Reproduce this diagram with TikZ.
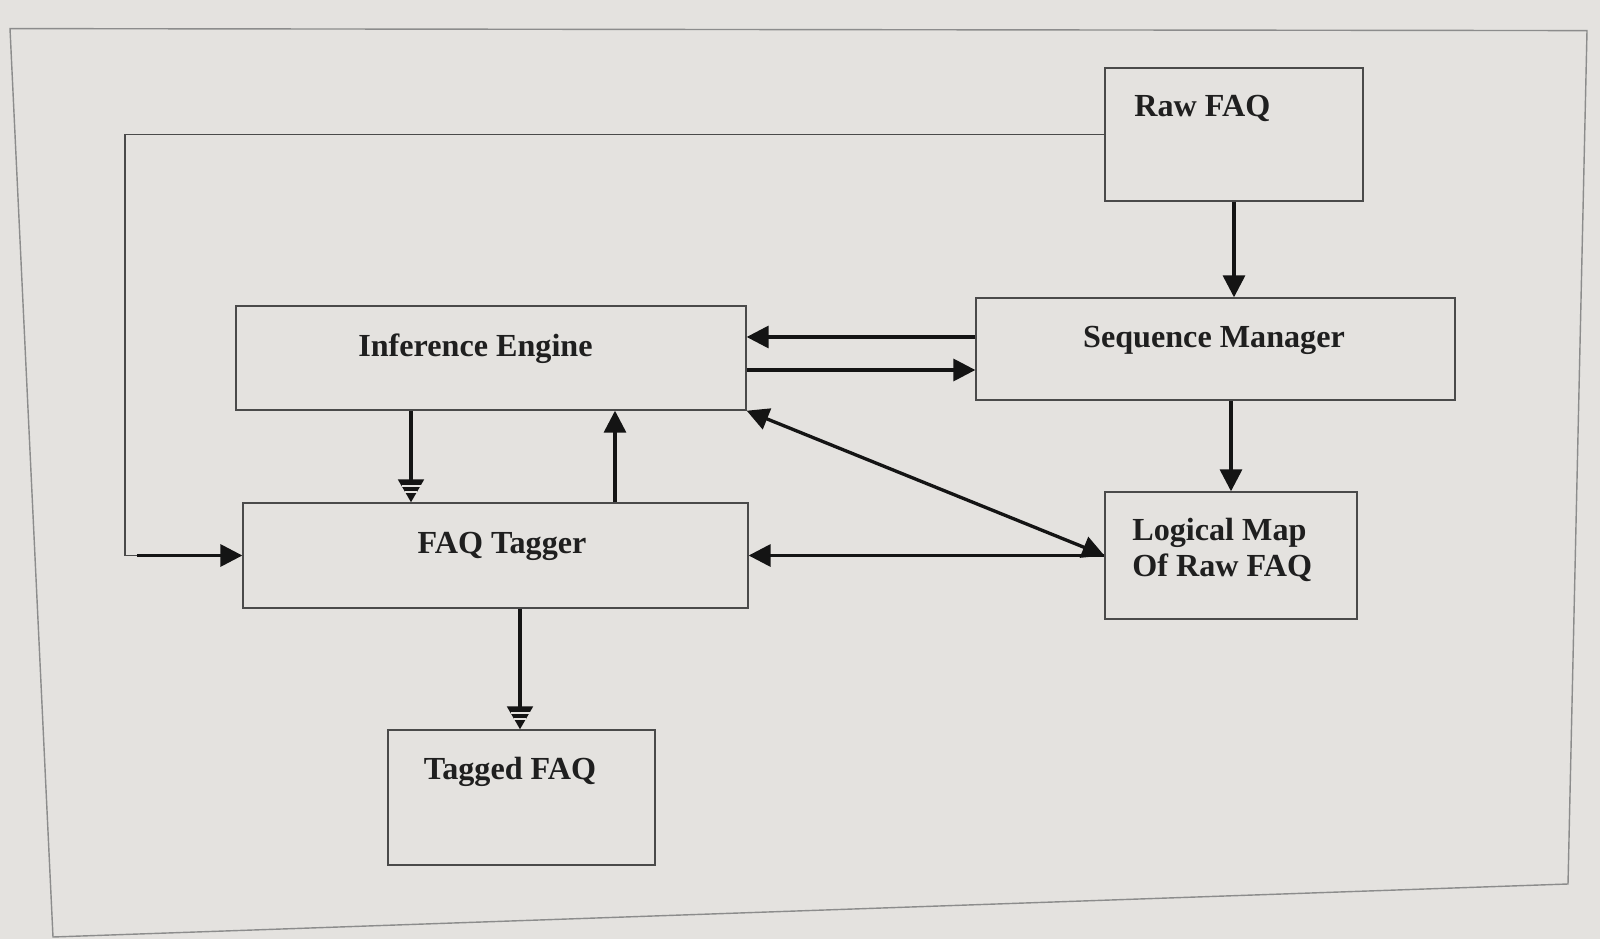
\documentclass[tikz,border=0pt]{standalone}
\usepackage{fontspec}
\setmainfont{Liberation Serif}
\usetikzlibrary{arrows.meta,calc}
\definecolor{bg}{HTML}{E4E2DF}
\definecolor{boxline}{HTML}{4A4A4A}
\definecolor{frameline}{HTML}{8C8C8C}
\tikzset{
  box/.style={draw=boxline, line width=0.8pt, inner sep=0pt},
  lbl/.style={font=\bfseries\fontsize{18.3pt}{21pt}\selectfont, inner sep=0pt, text=black!88},
  arr/.style={draw=black!92, line width=1.9pt, -{Triangle[width=12.5pt,length=12.5pt]}},
  darr/.style={draw=black!92, line width=1.9pt, {Triangle[width=12.5pt,length=12.5pt]}-{Triangle[width=12.5pt,length=12.5pt]}},
  sarr/.style={draw=black!92, line width=1.9pt, -{Triangle[width=14.5pt,length=13pt]}},
  thin/.style={draw=boxline, line width=0.8pt},
  bar/.style={draw=bg, line width=1.1pt}
}
\begin{document}
\begin{tikzpicture}[x=0.02cm,y=-0.02cm]
\useasboundingbox (0,0) rectangle (1600,939);
\fill[bg] (0,0) rectangle (1600,939);
% page frame
\draw[frameline, line width=0.8pt] (10,28.6) -- (1587,30.6) -- (1568,884) -- (53,937) -- cycle;

% boxes
\node[box, minimum width=5.16cm, minimum height=2.66cm] (raw) at (1234,134.5) {};
\node[box, minimum width=9.58cm, minimum height=2.04cm] (seq) at (1215.5,349) {};
\node[box, minimum width=10.2cm, minimum height=2.08cm] (inf) at (491,358) {};
\node[box, minimum width=10.1cm, minimum height=2.1cm] (tag) at (495.5,555.5) {};
\node[box, minimum width=5.04cm, minimum height=2.54cm] (map) at (1231,555.5) {};
\node[box, minimum width=5.34cm, minimum height=2.7cm] (tfaq) at (521.5,797.5) {};

% labels
\node[lbl, anchor=west] (rawl) at (1134,108) {Raw FAQ};
\node[lbl] (seql) at (1214,340) {Sequence Manager};
\node[lbl] (infl) at (475.5,349) {Inference Engine};
\node[lbl] (tagl) at (502,546) {FAQ Tagger};
\node[lbl, anchor=west, align=left] (mapl) at (1132,550) {Logical Map\\Of Raw FAQ};
\node[lbl] (tfaql) at (510,772) {Tagged FAQ};

% helper coordinates
\coordinate (y1) at (0,337);
\coordinate (y2) at (0,370);
\coordinate (x1) at (411,0);
\coordinate (x2) at (615,0);
\coordinate (x3) at (520,0);
\coordinate (xl) at (125,0);
\coordinate (xs) at (137,0);

% connectors
\draw[arr] (raw.south) -- (raw.south |- seq.north);
\draw[arr] (seq.west |- y1) -- (inf.east |- y1);
\draw[arr] (inf.east |- y2) -- (seq.west |- y2);
\draw[arr] (map.north |- seq.south) -- (map.north);
\draw[arr] (x2 |- tag.north) -- (x2 |- inf.south);
\draw[darr] (inf.south east) -- (map.west);
\draw[arr] (map.west) -- (tag.east);

% striped arrows
\draw[sarr] (x1 |- inf.south) -- (x1 |- tag.north);
\draw[bar] ($(x1 |- tag.north)+(-9.5,-16)$) -- ++(19,0);
\draw[bar] ($(x1 |- tag.north)+(-6,-10)$) -- ++(12,0);
\draw[sarr] (x3 |- tag.south) -- (x3 |- tfaq.north);
\draw[bar] ($(x3 |- tfaq.north)+(-9.5,-16)$) -- ++(19,0);
\draw[bar] ($(x3 |- tfaq.north)+(-6,-10)$) -- ++(12,0);

% feedback loop
\draw[thin] (raw.west) -- (xl |- raw.west) -- (xl |- tag.west) -- (xs |- tag.west);
\draw[arr] (xs |- tag.west) -- (tag.west);
\end{tikzpicture}
\end{document}
